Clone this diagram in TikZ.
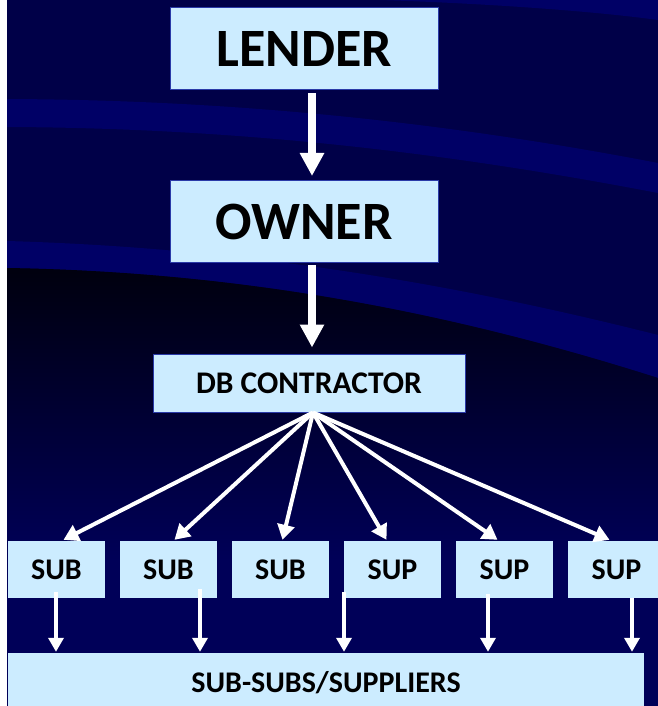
\documentclass[tikz,border=0pt]{standalone}
\usepackage{fontspec}
\setmainfont{Carlito}
\usetikzlibrary{arrows.meta}

\definecolor{bgmid}{HTML}{000048}
\definecolor{bgband}{HTML}{000066}
\definecolor{bgdark}{HTML}{00000E}
\definecolor{bglow}{HTML}{000058}
\definecolor{boxfill}{HTML}{CCECFF}
\definecolor{boxedge}{HTML}{2A3AA8}

\tikzset{
    partybox/.style={draw=boxedge, line width=1bp, fill=boxfill, inner sep=0pt,
        minimum width=268bp, minimum height=82bp,
        font=\fontsize{54bp}{60bp}\selectfont\bfseries},
    dbbox/.style={partybox, minimum width=312bp, minimum height=58bp,
        font=\fontsize{31.5bp}{36bp}\selectfont\bfseries},
    subbox/.style={fill=boxfill, inner sep=0pt, minimum width=97bp, minimum height=57bp,
        font=\fontsize{30bp}{34bp}\selectfont\bfseries},
    basebox/.style={subbox, minimum width=636bp, minimum height=60bp},
    mainarrow/.style={white, line width=8bp, -{Triangle[width=23bp,length=23bp]}},
    fanarrow/.style={white, line width=4bp, -{Triangle[width=17bp,length=15bp]}},
    downarrow/.style={white, line width=4bp, -{Triangle[width=15bp,length=14bp]}}
}

\begin{document}
\begin{tikzpicture}[x=1bp, y=-1bp]

    \useasboundingbox (0,0) rectangle (658,706);

    % Background with swooshes
    \fill[white] (0,0) rectangle (658,706);
    \fill[bgmid] (7,0) rectangle (658,706);
    \fill[bgband] (380,0) .. controls (500,4) and (600,12) .. (658,20) -- (658,0) -- cycle;
    \fill[bgband] (7,99) .. controls (250,100) and (460,125) .. (658,163)
        -- (658,193) .. controls (460,155) and (250,128) .. (7,127) -- cycle;
    \fill[bgband] (7,241) .. controls (250,248) and (460,285) .. (658,335)
        -- (658,378) .. controls (460,315) and (250,272) .. (7,268) -- cycle;
    \shade[top color=bgdark, middle color=bgdark!70!bglow, bottom color=bglow]
        (7,268) .. controls (250,272) and (460,315) .. (658,378)
        -- (658,560) -- (7,560) -- cycle;
    \fill[bglow] (7,559) rectangle (658,706);

    % Top of the chain
    \node[partybox] (lender) at (304,49) {LENDER};
    \node[partybox] (owner) at (304,221.5) {OWNER};
    \node[dbbox] (db) at (309,383) {DB CONTRACTOR};
    \coordinate (axis) at (312,0);

    \draw[mainarrow, shorten <=3bp, shorten >=4bp] (lender.south -| axis) -- (owner.north -| axis);
    \draw[mainarrow, shorten <=2bp, shorten >=6bp] (owner.south -| axis) -- (db.north -| axis);

    % Subs and suppliers
    \foreach \lbl [count=\i] in {SUB,SUB,SUB,SUP,SUP,SUP} {
        \node[subbox] (s\i) at ({56.5+112*(\i-1)},569.5) {\lbl};
    }
    \node[basebox] (ss) at (326,683) {SUB-SUBS/SUPPLIERS};

    % Fan out from the contractor
    \foreach \i/\dx in {1/7,2/6,3/2,4/-6,5/-7,6/-7} {
        \draw[fanarrow] ([xshift=4bp]db.south) -- ([xshift=\dx bp, yshift=1bp]s\i.north);
    }

    % Down to the sub-subs
    \foreach \i/\x/\y in {1/56/592,2/200/589,3/344/592,4/488/594,5/632/598} {
        \coordinate (d\i) at (\x,\y);
        \draw[downarrow, shorten >=1bp] (d\i) -- (d\i |- ss.north);
    }

\end{tikzpicture}
\end{document}
